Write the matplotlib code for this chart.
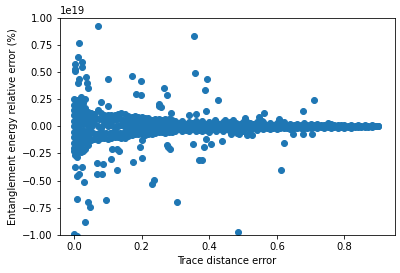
import matplotlib
matplotlib.use('Agg')
import numpy as np
import matplotlib.pyplot as plt

# values, y in units of 1e19
outlier_x = [0.072, 0.016, 0.013, 0.004, 0.025, 0.025, 0.004, 0.004, 0.016, 0.013, 0.036, 0.039, 0.042,
             0.099, 0.172, 0.182, 0.199, 0.199, 0.267, 0.276, 0.252, 0.252, 0.258, 0.288, 0.356, 0.359,
             0.081, 0.099, 0.394, 0.386, 0.427, 0.389, 0.563, 0.548, 0.506, 0.607, 0.678, 0.711, 0.752,
             0.649, 0.678, 0.704, 0.465, 0.489, 0.511, 0.525,
             0.000, 0.008, 0.033, 0.042, 0.048, 0.010, 0.096, 0.306, 0.028, 0.238, 0.230, 0.069, 0.087,
             0.069, 0.084, 0.128, 0.025, 0.004, 0.016, 0.008, 0.110, 0.175, 0.202, 0.004, 0.010, 0.113,
             0.128, 0.134, 0.196, 0.202, 0.274, 0.279, 0.285, 0.353, 0.371, 0.378, 0.383, 0.406, 0.439,
             0.390, 0.622, 0.613, 0.486, 0.340, 0.360, 0.417, 0.447, 0.469, 0.482, 0.510, 0.555]
outlier_y = [0.926, 0.770, 0.637, 0.576, 0.595, 0.549, 0.525, 0.505, 0.435, 0.400, 0.457, 0.400, 0.356,
             0.430, 0.466, 0.300, 0.290, 0.414, 0.356, 0.290, 0.208, 0.190, 0.180, 0.126, 0.834, 0.494,
             0.227, 0.190, 0.430, 0.337, 0.245, 0.144, 0.126, 0.085, 0.080, 0.070, 0.144, 0.245, 0.034,
             -0.067, -0.067, -0.067, -0.067, -0.067, -0.076, -0.076,
             -0.987, -1.010, -0.877, -0.692, -0.738, -0.665, -0.674, -0.700, -0.509, -0.497, -0.527, -0.334, -0.343,
             -0.435, -0.435, -0.405, -0.371, -0.371, -0.435, -0.460, -0.297, -0.325, -0.288, -0.260, -0.280, -0.205,
             -0.205, -0.223, -0.187, -0.130, -0.168, -0.187, -0.205, -0.160, -0.306, -0.306, -0.187, -0.160, -0.132,
             -0.120, -0.150, -0.398, -0.968, 0.100, 0.117, 0.055, 0.062, 0.055, -0.060, 0.050, 0.045]

# thick part right next to zero
core_x = [0.000, 0.000, 0.000, 0.000, 0.000, 0.000, 0.000, 0.000, 0.000, 0.000, 0.000,
          0.010, 0.010, 0.010, 0.010, 0.010, 0.010, 0.010, 0.010, 0.010, 0.010, 0.010,
          0.020, 0.020, 0.020, 0.020, 0.020, 0.020, 0.020, 0.020, 0.020, 0.020,
          0.032, 0.032, 0.032, 0.032, 0.032, 0.032, 0.032,
          0.005, 0.005, 0.005, 0.005, 0.005, 0.005, 0.005, 0.005, 0.005, 0.005,
          0.015, 0.015, 0.015, 0.015, 0.015, 0.015, 0.015, 0.015, 0.015, 0.015,
          0.026, 0.026, 0.026, 0.026, 0.026, 0.026, 0.026, 0.026,
          0.040, 0.040, 0.040, 0.040, 0.040, 0.040]
core_y = [0.250, 0.200, 0.150, 0.100, 0.050, 0.000, -0.050, -0.100, -0.150, -0.200, -0.230,
          0.245, 0.200, 0.150, 0.100, 0.050, 0.000, -0.050, -0.100, -0.150, -0.200, -0.235,
          0.265, 0.200, 0.150, 0.100, 0.050, -0.050, -0.100, -0.150, -0.200, -0.240,
          0.250, 0.170, 0.120, 0.060, -0.060, -0.120, -0.210,
          0.225, 0.175, 0.125, 0.075, 0.025, -0.025, -0.075, -0.125, -0.175, -0.215,
          0.225, 0.175, 0.125, 0.075, 0.025, -0.025, -0.075, -0.125, -0.175, -0.225,
          0.210, 0.140, 0.080, 0.020, -0.030, -0.080, -0.150, -0.225,
          0.100, 0.050, 0.000, -0.040, -0.090, -0.170]

# the long band, top edge / middle / bottom edge
band_x = [0.04, 0.05, 0.06, 0.07, 0.08, 0.09, 0.10, 0.11, 0.12, 0.13, 0.14, 0.15, 0.16, 0.17, 0.18, 0.19,
          0.20, 0.21, 0.22, 0.23, 0.24, 0.25, 0.26, 0.27, 0.28, 0.29, 0.30, 0.32, 0.34, 0.36, 0.38, 0.40,
          0.42, 0.44, 0.46, 0.48, 0.50, 0.52, 0.54, 0.56, 0.58, 0.60, 0.62, 0.64, 0.66, 0.68, 0.70, 0.72,
          0.74, 0.76, 0.78, 0.80, 0.82, 0.84, 0.86, 0.88, 0.90]
band_top = [0.130, 0.120, 0.115, 0.150, 0.125, 0.100, 0.105, 0.100, 0.105, 0.110, 0.125, 0.110, 0.090, 0.085, 0.095, 0.085,
            0.085, 0.080, 0.080, 0.060, 0.065, 0.070, 0.060, 0.065, 0.070, 0.060, 0.050, 0.045, 0.040, 0.050, 0.045, 0.040,
            0.035, 0.040, 0.035, 0.030, 0.035, 0.030, 0.040, 0.035, 0.030, 0.030, 0.035, 0.025, 0.020, 0.030, 0.020, 0.025,
            0.015, 0.020, 0.015, 0.015, 0.010, 0.012, 0.010, 0.008, 0.002]
band_mid = [0.020, -0.010, 0.030, 0.000, -0.020, 0.020, 0.000, 0.010, -0.010, 0.000, 0.010, -0.010, 0.000, 0.010, 0.000, -0.010,
            0.000, 0.005, -0.005, 0.000, 0.005, 0.000, -0.005, 0.000, 0.005, 0.000, -0.005, 0.000, 0.000, 0.000, 0.000, 0.000,
            0.000, 0.000, 0.000, 0.000, 0.000, 0.000, 0.000, 0.000, 0.000, 0.000, 0.000, 0.000, 0.000, 0.000, 0.000, 0.000,
            0.000, 0.000, 0.000, 0.000, 0.000, 0.000, 0.000, 0.000, 0.000]
band_low = [-0.135, -0.125, -0.115, -0.130, -0.110, -0.105, -0.120, -0.110, -0.100, -0.100, -0.110, -0.105, -0.090, -0.085, -0.075, -0.075,
            -0.070, -0.080, -0.075, -0.070, -0.060, -0.055, -0.050, -0.060, -0.050, -0.055, -0.045, -0.040, -0.045, -0.045, -0.045, -0.050,
            -0.040, -0.045, -0.040, -0.035, -0.040, -0.035, -0.030, -0.025, -0.025, -0.025, -0.020, -0.025, -0.020, -0.020, -0.020, -0.015,
            -0.015, -0.015, -0.015, -0.012, -0.012, -0.010, -0.010, -0.008, -0.002]

# points between the rows above, so the band closes up
fill_x = [0.035, 0.045, 0.055, 0.065, 0.075, 0.085, 0.095, 0.105, 0.115, 0.125, 0.135, 0.145, 0.155, 0.165, 0.175, 0.185,
          0.195, 0.205, 0.215, 0.225, 0.235, 0.245, 0.255, 0.265, 0.275, 0.285, 0.295, 0.31, 0.33, 0.35, 0.37, 0.39,
          0.41, 0.43, 0.45, 0.47, 0.49, 0.51, 0.53, 0.55, 0.57, 0.59, 0.61, 0.63, 0.65, 0.67, 0.69, 0.71,
          0.73, 0.75, 0.77, 0.79, 0.81, 0.83, 0.85, 0.87, 0.89]
fill_up = [0.075, 0.070, 0.065, 0.075, 0.070, 0.060, 0.060, 0.060, 0.055, 0.060, 0.065, 0.060, 0.050, 0.050, 0.055, 0.050,
           0.045, 0.045, 0.045, 0.040, 0.040, 0.040, 0.035, 0.040, 0.040, 0.035, 0.030, 0.030, 0.025, 0.030, 0.030, 0.025,
           0.020, 0.025, 0.020, 0.020, 0.020, 0.020, 0.020, 0.020, 0.015, 0.015, 0.020, 0.015, 0.010, 0.015, 0.010, 0.015,
           0.008, 0.010, 0.008, 0.008, 0.005, 0.006, 0.005, 0.004, 0.002]
fill_dn = [-0.075, -0.070, -0.065, -0.070, -0.065, -0.060, -0.065, -0.060, -0.055, -0.055, -0.060, -0.060, -0.050, -0.045, -0.045, -0.040,
           -0.040, -0.045, -0.040, -0.040, -0.035, -0.030, -0.030, -0.035, -0.030, -0.030, -0.025, -0.025, -0.030, -0.025, -0.030, -0.030,
           -0.025, -0.025, -0.025, -0.020, -0.025, -0.020, -0.020, -0.015, -0.015, -0.015, -0.012, -0.015, -0.012, -0.012, -0.012, -0.010,
           -0.008, -0.008, -0.008, -0.006, -0.006, -0.005, -0.005, -0.004, -0.002]

SCALE = 1e19

x = np.array(outlier_x + core_x + band_x + band_x + band_x + fill_x + fill_x)
y = np.array(outlier_y + core_y + band_top + band_mid + band_low + fill_up + fill_dn) * SCALE

fig = plt.figure(figsize=(400 / 72, 273 / 72), dpi=72)
ax = fig.add_axes([59.5 / 400, 38 / 273, 335 / 400, 217.5 / 273])
ax.scatter(x, y)
ax.set_xlim(-0.043, 0.948)
ax.set_ylim(-1e19, 1e19)
ax.set_xlabel('Trace distance error')
ax.set_ylabel('Entanglement energy relative error (%)')

fig.savefig('out.png', dpi=72)
